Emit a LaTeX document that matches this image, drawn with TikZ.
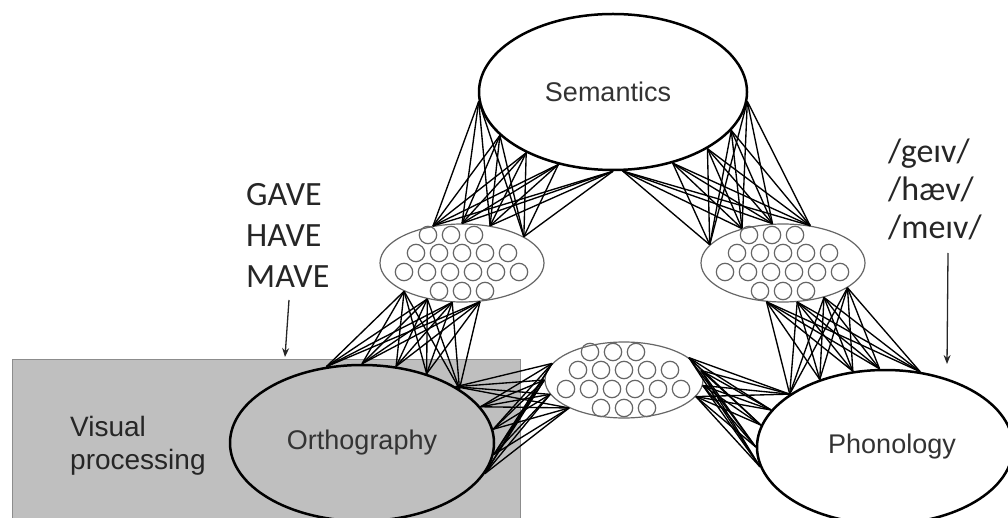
\documentclass[tikz,border=0pt]{standalone}
\usepackage{fontspec}
\setmainfont{Liberation Sans}
\newfontfamily\wordfont{Carlito}
\usetikzlibrary{arrows.meta,shapes.geometric}

\tikzset{
  layer/.style={ellipse, draw=black, line width=2.5pt, inner sep=0pt,
    text=black!80, font=\fontsize{27}{32}\selectfont},
  hidden/.style={ellipse, draw=black!60, fill=white, line width=1.2pt, inner sep=0pt},
  cell/.style={draw=black!60, line width=1.2pt},
  link/.style={draw=black, line width=1.35pt},
  pointer/.style={draw=black!85, line width=1.3pt, -{Stealth[length=9pt,width=7pt]}},
  label/.style={text=black!85, inner sep=0pt, align=left}
}

% fully connect a set of border points on one node with a set on another
\newcommand\linkbundle[4]{%
  \foreach \a in {#2}{\foreach \b in {#4}{\draw[link] (#1.\a) -- (#3.\b);}}}

% hexagonal pack of units inside a hidden layer
\newcommand\unitgrid[1]{%
  \foreach \dx/\dy in {-34/-28,-11/-28,12/-28,
      -46/-10,-23/-10,0/-10,23/-10,46/-10,
      -58/9,-35/9,-12/9,11/9,34/9,57/9,
      -23/28,0/28,23/28}{%
    \draw[cell, shift={(#1.center)}] (\dx,\dy) circle[radius=8.7pt];}}

\begin{document}
\begin{tikzpicture}[x=1pt, y=-1pt]
  \useasboundingbox (0,0) rectangle (1008,518);
  \clip (0,0) rectangle (1008,518);

  % visual processing area
  \node[draw=black!45, fill=black!25, line width=1.2pt, minimum width=508pt,
        minimum height=200pt, anchor=north west, inner sep=0pt] (vis) at (12,359) {};
  \node[label, anchor=west, font=\fontsize{28}{33}\selectfont] (vislabel) at (70,446)
        {Visual\\processing};

  % main layers
  \node[layer, fill=white, minimum width=268pt, minimum height=156pt] (sem) at (613,92) {\hspace*{-10pt}Semantics};
  \node[layer, minimum width=264pt, minimum height=156pt] (orth) at (362,443) {Orthography};
  \node[layer, fill=white, minimum width=256pt, minimum height=154pt] (phon) at (885,447) {\hspace*{14pt}Phonology};

  % hidden layers
  \node[hidden, minimum width=164pt, minimum height=78pt] (hl) at (462,263) {};
  \node[hidden, minimum width=164pt, minimum height=78pt] (hr) at (783,263) {};
  \node[hidden, minimum width=158pt, minimum height=76pt] (hb) at (624,380) {};

  % connections
  \linkbundle{sem}{184,201,215,233,270}{hl}{128,90,53,23}
  \linkbundle{sem}{277,310,329,342,356}{hr}{166,140,105,54}
  \linkbundle{orth}{115,90,66,47,29}{hl}{206,226,256,295}
  \linkbundle{orth}{31,17,6,355,346}{hb}{167,180,191,207}
  \linkbundle{phon}{151,134,113,94,65}{hr}{247,290,320,339}
  \linkbundle{phon}{151,162,170,180,189}{hb}{19,7,356,347}

  % units of the hidden layers
  \unitgrid{hl}
  \unitgrid{hr}
  \unitgrid{hb}

  % printed and spoken inputs
  \node[label, anchor=north west, font=\wordfont\fontsize{34}{41}\selectfont] (print) at (246,183)
        {GAVE\\HAVE\\MAVE};
  \node[label, anchor=north west, font=\wordfont\fontsize{34}{38}\selectfont] (speech) at (888,139)
        {/geɪv/\\/hæv/\\/meɪv/};
  \coordinate (printtail) at (289,300);
  \coordinate (printtip) at (285,357);
  \coordinate (speechtail) at (948,253);
  \coordinate (speechtip) at (947,364);
  \draw[pointer] (printtail) -- (printtip);
  \draw[pointer] (speechtail) -- (speechtip);
\end{tikzpicture}
\end{document}
